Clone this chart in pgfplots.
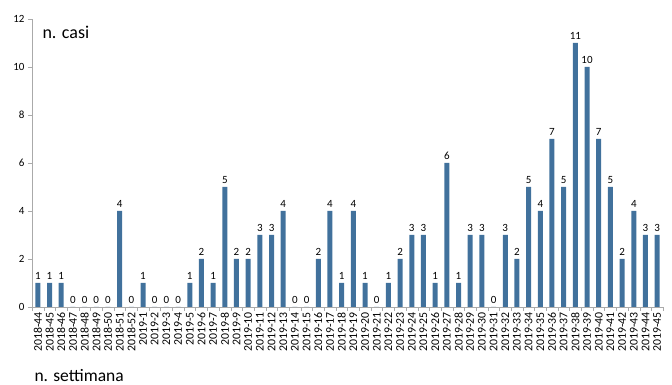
\documentclass[border=0pt]{standalone}
\usepackage{pgfplots}
\pgfplotsset{compat=1.18}
\usepackage{fontspec}
\setmainfont{Carlito}
\definecolor{barblue}{RGB}{65,113,156}
\definecolor{axgray}{RGB}{170,170,170}
\begin{document}
\begin{tikzpicture}[x=1pt,y=1pt]
\useasboundingbox (0,0) rectangle (672,385);
\begin{axis}[
  at={(32pt,78pt)}, anchor=south west,
  scale only axis, width=631pt, height=288pt,
  xmin=-0.5, xmax=53.5, ymin=0, ymax=12,
  axis x line=bottom, axis y line=left,
  axis line style={-, draw=axgray},
  ytick={0,2,4,6,8,10,12},
  xtick={0,...,53},
  major x tick style={draw=none},
  minor xtick={-0.5,0.5,...,53.5},
  minor x tick style={draw=axgray},
  minor tick length=4pt,
  major tick length=4pt,
  tick align=outside,
  y tick style={draw=axgray},
  xticklabels={2018-44,2018-45,2018-46,2018-47,2018-48,2018-49,2018-50,2018-51,2018-52,2019-1,2019-2,2019-3,2019-4,2019-5,2019-6,2019-7,2019-8,2019-9,2019-10,2019-11,2019-12,2019-13,2019-14,2019-15,2019-16,2019-17,2019-18,2019-19,2019-20,2019-21,2019-22,2019-23,2019-24,2019-25,2019-26,2019-27,2019-28,2019-29,2019-30,2019-31,2019-32,2019-33,2019-34,2019-35,2019-36,2019-37,2019-38,2019-39,2019-40,2019-41,2019-42,2019-43,2019-44,2019-45},
  x tick label style={rotate=90, anchor=east, font=\fontsize{11.8}{12}\selectfont, inner sep=1pt},
  y tick label style={font=\fontsize{11}{12}\selectfont},
  /pgf/number format/assume math mode=true,
  ybar, bar width=5pt,
  nodes near coords,
  every node near coord/.append style={font=\fontsize{11}{12}\selectfont, black},
  clip=false,
]
\addplot[fill=barblue, draw=none] coordinates {
(0,1)(1,1)(2,1)(3,0)(4,0)(5,0)(6,0)(7,4)(8,0)
(9,1)(10,0)(11,0)(12,0)(13,1)(14,2)(15,1)(16,5)(17,2)(18,2)(19,3)(20,3)(21,4)(22,0)(23,0)(24,2)(25,4)(26,1)(27,4)(28,1)(29,0)(30,1)(31,2)(32,3)(33,3)(34,1)(35,6)(36,1)(37,3)(38,3)(39,0)(40,3)(41,2)(42,5)(43,4)(44,7)(45,5)(46,11)(47,10)(48,7)(49,5)(50,2)(51,4)(52,3)(53,3)
};
\end{axis}
\node[anchor=west, font=\fontsize{18}{20}\selectfont] at (39,353) {n. casi};
\node[anchor=west, font=\fontsize{17.5}{20}\selectfont] at (31,9) {n. settimana};
\end{tikzpicture}
\end{document}
